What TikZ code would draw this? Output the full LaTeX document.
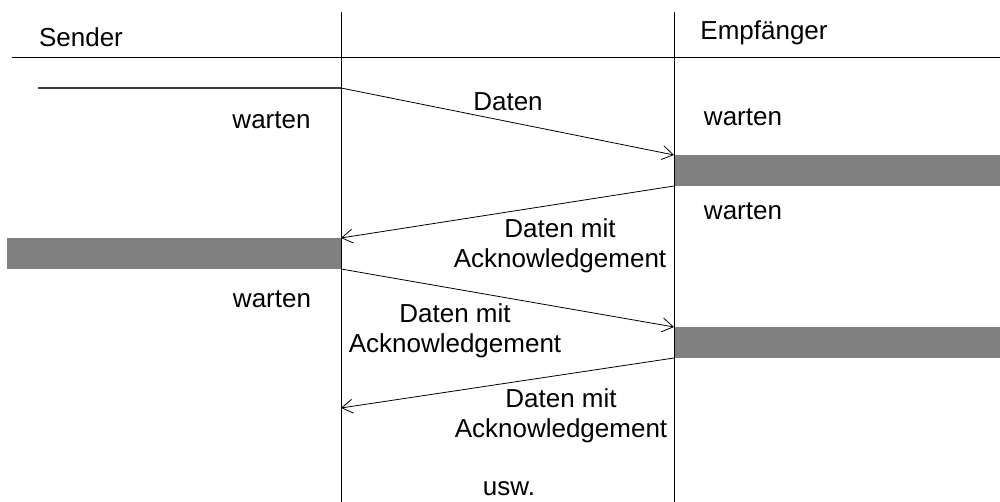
\documentclass[tikz,border=0pt]{standalone}
\usepackage{fontspec}
\setmainfont{Liberation Sans}
\usetikzlibrary{arrows.meta}
\definecolor{barGray}{HTML}{808080}
\definecolor{startGray}{HTML}{404040}
\begin{document}
\begin{tikzpicture}[x=1pt,y=-1pt,
  lbl/.style={font=\fontsize{26}{30}\selectfont, inner sep=0pt},
  bar/.style={fill=barGray, draw=none, minimum width=326pt, minimum height=31pt, inner sep=0pt, outer sep=0pt, anchor=north west},
  life/.style={line width=0.8pt, black},
  msg/.style={line width=0.8pt, -{Straight Barb[length=11pt,width=14pt]}}]
\useasboundingbox (0,0) rectangle (1000,502);
% coordinates
\coordinate (sTop) at (341,12);
\coordinate (sBot) at (341,502);
\coordinate (rTop) at (674,12);
\coordinate (rBot) at (674,502);
\coordinate (hL) at (12,57);
\coordinate (hR) at (1000,57);
\coordinate (start) at (38,88);
\coordinate (send0) at (341,88);
\coordinate (end4) at (341,408);
% bars
\node[bar] (R1) at (674,155) {};
\node[bar, minimum width=334pt] (L1) at (7,238) {};
\node[bar] (R2) at (674,327) {};
% lines
\draw[life] (sTop) -- (sBot);
\draw[life] (rTop) -- (rBot);
\draw[life] (hL) -- (hR);
\draw[line width=1.2pt, startGray] (start) -- (send0);
% messages
\draw[msg] (send0) -- (R1.north west);
\draw[msg] (R1.south west) -- (L1.north east);
\draw[msg] (L1.south east) -- (R2.north west);
\draw[msg] (R2.south west) -- (end4);
% texts
\node[lbl, anchor=base] (sender) at (81,47) {Sender};
\node[lbl, anchor=base] (empf) at (764,40) {Empfänger};
\node[lbl, anchor=base] (d1) at (508,111) {Daten};
\node[lbl, anchor=base] (w1) at (271.5,129) {warten};
\node[lbl, anchor=base] (w2) at (743,126) {warten};
\node[lbl, anchor=base] (w3) at (743,220) {warten};
\node[lbl, anchor=base] (w4) at (272,307) {warten};
\node[lbl, align=center] (d2) at (560,246) {Daten mit\\Acknowledgement};
\node[lbl, align=center] (d3) at (455,331) {Daten mit\\Acknowledgement};
\node[lbl, align=center] (d4) at (561,416) {Daten mit\\Acknowledgement};
\node[lbl, anchor=base] (usw) at (509,495) {usw.};
\end{tikzpicture}
\end{document}
